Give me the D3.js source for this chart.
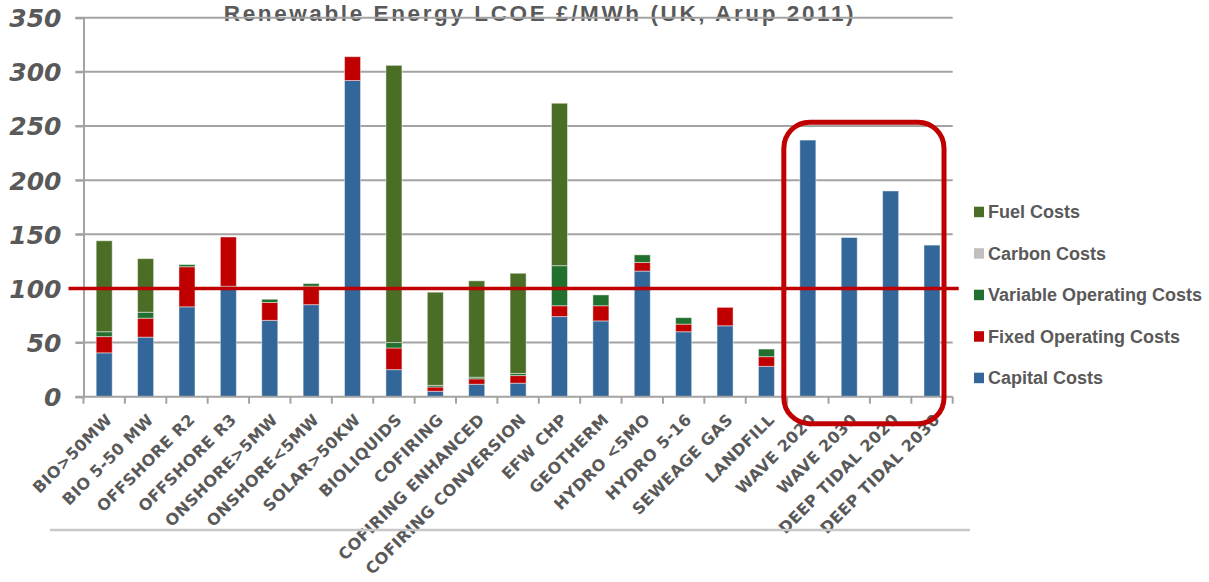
<!DOCTYPE html>
<html>
<head>
<meta charset="utf-8">
<script src="https://cdn.jsdelivr.net/npm/d3@7"></script>
<style>
  html, body { margin: 0; padding: 0; background: #fff; }
  svg { display: block; }
</style>
</head>
<body>
<svg id="chart" width="1209" height="582"></svg>
<script>
// Levelised cost of electricity by technology, £/MWh
const categories = [
  "BIO>50MW", "BIO 5-50 MW", "OFFSHORE R2", "OFFSHORE R3", "ONSHORE>5MW",
  "ONSHORE<5MW", "SOLAR>50KW", "BIOLIQUIDS", "COFIRING", "COFIRING ENHANCED",
  "COFIRING CONVERSION", "EFW CHP", "GEOTHERM", "HYDRO <5MO", "HYDRO 5-16",
  "SEWEAGE GAS", "LANDFILL", "WAVE 2020", "WAVE 2030", "DEEP TIDAL 2020", "DEEP TIDAL 2030"
];
const capitalCosts   = [40.5, 55, 83, 102, 70.5, 85, 292, 25, 5, 11.5, 12.5, 74, 70, 116, 60, 65.5, 28, 237, 147, 190, 140];
const fixedOpCosts   = [15, 17.5, 37, 45.5, 16.5, 17, 22, 20, 4, 5, 7, 10, 14, 8, 7, 17, 9, 0, 0, 0, 0];
const variableOpCosts= [4.5, 5.5, 2, 0, 3, 2.5, 0, 5, 1.5, 1.5, 2, 37, 10, 7, 6, 0, 7, 0, 0, 0, 0];
const carbonCosts    = [0, 0, 0, 0, 0, 0, 0, 0, 0, 0, 0, 0, 0, 0, 0, 0, 0, 0, 0, 0, 0];
const fuelCosts      = [84, 49.5, 0, 0, 0, 0, 0, 256, 86, 89, 92.5, 150, 0, 0, 0, 0, 0, 0, 0, 0, 0];

const seriesNames = ["Capital Costs", "Fixed Operating Costs", "Variable Operating Costs", "Carbon Costs", "Fuel Costs"];
const seriesColors = ["#336699", "#c00000", "#217030", "#c0c0c0", "#4a6e25"];
const yTicks = [0, 50, 100, 150, 200, 250, 300, 350];
const thresholdValue = 100;
const title = "Renewable Energy LCOE £/MWh (UK, Arup 2011)";

const seriesValues = [capitalCosts, fixedOpCosts, variableOpCosts, carbonCosts, fuelCosts];
const rows = categories.map((c, i) => {
  const r = { category: c };
  seriesNames.forEach((s, k) => r[s] = seriesValues[k][i]);
  return r;
});

const svg = d3.select("#chart");
const plot = { left: 83.5, right: 952.7, top: 17.7, bottom: 396.7 };

const x = d3.scaleBand()
  .domain(categories)
  .range([plot.left, plot.right])
  .paddingInner(0.613)
  .paddingOuter(0.3065);

const y = d3.scaleLinear().domain([0, 350]).range([plot.bottom, plot.top]);

const grey = "#595959";

// Title
svg.append("text")
  .attr("x", 540).attr("y", 20.5)
  .attr("text-anchor", "middle")
  .attr("font-family", "'Liberation Sans', Arial, sans-serif")
  .attr("font-weight", "bold")
  .attr("font-size", 22.5)
  .attr("letter-spacing", 2.6)
  .attr("fill", grey)
  .text(title);

// Horizontal gridlines
svg.append("g").selectAll("line")
  .data(yTicks.filter(d => d > 0))
  .join("line")
  .attr("x1", plot.left - 8).attr("x2", plot.right)
  .attr("y1", d => y(d)).attr("y2", d => y(d))
  .attr("stroke", "#a3a3a3").attr("stroke-width", 2);

// Y axis
const yAxis = d3.axisLeft(y).tickValues(yTicks).tickSize(8).tickPadding(14);
const gy = svg.append("g").attr("transform", `translate(${plot.left},0)`).call(yAxis);
gy.select(".domain").attr("stroke", "#a3a3a3").attr("stroke-width", 2);
gy.selectAll(".tick line").attr("stroke", "#a3a3a3").attr("stroke-width", 2);
gy.selectAll(".tick text")
  .attr("font-family", "'DejaVu Sans', sans-serif")
  .attr("font-weight", "bold")
  .attr("font-style", "italic")
  .attr("font-size", 25)
  .attr("fill", grey)
  .attr("dy", "0.36em");

// Stacked bars
const stack = d3.stack().keys(seriesNames);
const layers = stack(rows);

svg.append("g").selectAll("g")
  .data(layers)
  .join("g")
  .attr("fill", (d, i) => seriesColors[i])
  .selectAll("rect")
  .data(d => d.filter(p => p[1] - p[0] > 0))
  .join("rect")
  .attr("x", d => x(d.data.category))
  .attr("width", x.bandwidth())
  .attr("y", d => y(d[1]))
  .attr("height", d => y(d[0]) - y(d[1]))
  .attr("stroke", "rgba(255,255,255,0.45)")
  .attr("stroke-width", 1);

// X axis line and tick marks at band boundaries
const step = x.step();
const boundaries = d3.range(categories.length + 1).map(i => plot.left + i * step);
svg.append("line")
  .attr("x1", plot.left - 8).attr("x2", plot.right)
  .attr("y1", plot.bottom).attr("y2", plot.bottom)
  .attr("stroke", "#a3a3a3").attr("stroke-width", 2);
svg.append("g").selectAll("line")
  .data(boundaries)
  .join("line")
  .attr("x1", d => d).attr("x2", d => d)
  .attr("y1", plot.bottom).attr("y2", plot.bottom + 7)
  .attr("stroke", "#a3a3a3").attr("stroke-width", 2);

// Category labels, rotated
svg.append("g").selectAll("text")
  .data(categories)
  .join("text")
  .attr("transform", d => `translate(${x(d) + x.bandwidth() / 2 + 5},${plot.bottom + 20}) rotate(-45)`)
  .attr("text-anchor", "end")
  .attr("dy", "0.35em")
  .attr("font-family", "'DejaVu Sans', sans-serif")
  .attr("font-weight", "bold")
  .attr("font-size", 16)
  .attr("letter-spacing", 0.4)
  .attr("fill", grey)
  .text(d => d);

// 100 £/MWh reference line
svg.append("line")
  .attr("x1", plot.left - 15).attr("x2", plot.right + 6)
  .attr("y1", y(thresholdValue)).attr("y2", y(thresholdValue))
  .attr("stroke", "#c00000").attr("stroke-width", 3.5);

// Highlight box around the wave and tidal technologies
const first = "WAVE 2020", last = "DEEP TIDAL 2030";
const boxLeft = x(first) - 16;
const boxRight = x(last) + x.bandwidth() + 4;
const boxTop = y(253.5);
const boxBottom = plot.bottom + 27;
svg.append("rect")
  .attr("x", boxLeft).attr("y", boxTop)
  .attr("width", boxRight - boxLeft).attr("height", boxBottom - boxTop)
  .attr("rx", 26).attr("ry", 26)
  .attr("fill", "none")
  .attr("stroke", "#c00000").attr("stroke-width", 5);

// Legend (top entry is the top of the stack)
const legendItems = seriesNames.map((n, i) => ({ name: n, color: seriesColors[i] })).reverse();
const legend = svg.append("g").selectAll("g")
  .data(legendItems)
  .join("g")
  .attr("transform", (d, i) => `translate(974,${211.7 + i * 41.5})`);
legend.append("rect")
  .attr("x", 0).attr("y", -5).attr("width", 10).attr("height", 10.5)
  .attr("fill", d => d.color);
legend.append("text")
  .attr("x", 14).attr("dy", "0.36em")
  .attr("font-family", "'Liberation Sans', Arial, sans-serif")
  .attr("font-weight", "bold")
  .attr("font-size", 18)
  .attr("fill", grey)
  .text(d => d.name);

// Bottom rule
svg.append("line")
  .attr("x1", 50).attr("x2", 970)
  .attr("y1", 530).attr("y2", 530)
  .attr("stroke", "#c8c8c8").attr("stroke-width", 2.5);
</script>
</body>
</html>
